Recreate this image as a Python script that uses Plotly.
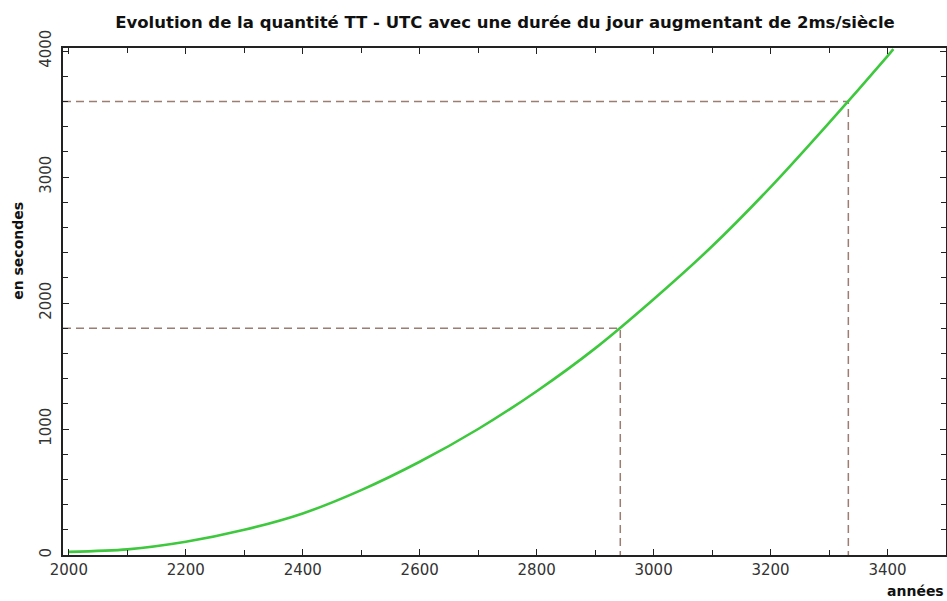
import plotly.graph_objects as go

# Data
years = [2000, 2100, 2200, 2300, 2400, 2500, 2600, 2700, 2800, 2900,
         3000, 3100, 3200, 3300, 3400, 3410]
tt_utc = [25, 45, 105, 200, 330, 515, 740, 1000, 1300, 1640,
          2030, 2450, 2920, 3430, 3960, 4015]

# Reference guide lines (year, seconds)
guide_years = [2943, 3333]
guide_values = [1800, 3600]

title_text = "Evolution de la quantité TT - UTC avec une durée du jour augmentant de 2ms/siècle"
x_title = "années"
y_title = "en secondes"

x_range = [1990, 3500]
y_range = [0, 4024]

font_family = "'DejaVu Sans', sans-serif"
dash_color = "#9c7d72"

W, H = 947, 601

fig = go.Figure()

for gx, gy in zip(guide_years, guide_values):
    fig.add_trace(go.Scatter(
        x=[x_range[0], gx, gx], y=[gy, gy, y_range[0]],
        mode="lines",
        line=dict(color=dash_color, width=1.5, dash="8px,5px"),
        hoverinfo="skip", showlegend=False,
    ))

fig.add_trace(go.Scatter(
    x=years, y=tt_utc, mode="lines",
    line=dict(color="#3ec83e", width=2.6, shape="spline", smoothing=0.8),
    showlegend=False,
))

fig.update_layout(
    width=W, height=H,
    paper_bgcolor="white", plot_bgcolor="white",
    margin=dict(l=63, r=1, t=48, b=46, autoexpand=False),
    font=dict(family=font_family, color="#222"),
    title=dict(text=title_text, x=505 / W, xanchor="center", y=1 - 22 / H, yanchor="middle",
               font=dict(size=16.5, family=font_family, color="#111", weight="bold")),
    xaxis=dict(
        range=x_range, tick0=2000, dtick=200, ticks="inside", ticklen=6,
        tickcolor="#222", showline=True, linecolor="#222", linewidth=1.5,
        mirror="ticks", showgrid=False, zeroline=False, automargin=False,
        tickfont=dict(size=15, color="#333"),
        minor=dict(tick0=2000, dtick=100, ticks="inside", ticklen=5, tickcolor="#222"),
    ),
    yaxis=dict(
        range=y_range, tick0=0, dtick=1000, ticks="inside", ticklen=6,
        tickcolor="#222", showline=True, linecolor="#222", linewidth=1.5,
        mirror="ticks", showgrid=False, zeroline=False, tickangle=-90, automargin=False,
        ticklabelstandoff=4,
        tickfont=dict(size=15, color="#333"),
        minor=dict(tick0=0, dtick=200, ticks="inside", ticklen=5, tickcolor="#222"),
    ),
    annotations=[
        dict(text=x_title, xref="paper", yref="paper", x=1.0, y=0,
             xanchor="right", yanchor="top", yshift=-26, showarrow=False,
             font=dict(size=14, color="#111", weight="bold")),
        dict(text=y_title, xref="paper", yref="paper", x=0, y=0.6,
             xanchor="center", yanchor="middle", showarrow=False, textangle=-90,
             xshift=-45, font=dict(size=14, color="#111", weight="bold")),
    ],
)

fig.write_html(
    "out.html",
    config={"displayModeBar": False},
    post_script="document.body.style.margin='0';document.body.style.overflow='hidden';",
)
